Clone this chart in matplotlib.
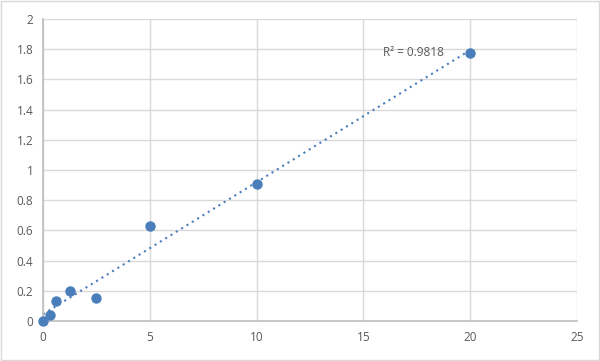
import numpy as np
import matplotlib
matplotlib.use("Agg")
import matplotlib.pyplot as plt

x_vals = [0, 0.3125, 0.625, 1.25, 2.5, 5, 10, 20]
y_vals = [0.0, 0.04, 0.13, 0.20, 0.15, 0.63, 0.905, 1.775]
x_ticks = [0, 5, 10, 15, 20, 25]
y_ticks = [0, 0.2, 0.4, 0.6, 0.8, 1, 1.2, 1.4, 1.6, 1.8, 2]
y_tick_labels = ["0", "0.2", "0.4", "0.6", "0.8", "1", "1.2", "1.4", "1.6", "1.8", "2"]
r2_label = "R² = 0.9818"

plt.rcParams['font.family'] = ['Open Sans', 'DejaVu Sans']

fig = plt.figure(figsize=(6, 3.61), dpi=100)
fig.patch.set_facecolor('white')
ax = fig.add_axes([43/600, 1 - 321/361, (577-43)/600, (321-19)/361])

ax.set_xlim(0, 25)
ax.set_ylim(0, 2)
ax.set_xticks(x_ticks)
ax.set_yticks(y_ticks)
ax.set_yticklabels(y_tick_labels)
ax.grid(True, color='#d9d9d9', linewidth=1)
ax.set_axisbelow(True)
for s in ['top', 'right']:
    ax.spines[s].set_visible(False)
for s in ['left', 'bottom']:
    ax.spines[s].set_color('#bfbfbf')
    ax.spines[s].set_linewidth(1.2)
ax.tick_params(length=0, labelsize=8.5, colors='#595959', pad=7)

# trendline
coef = np.polyfit(x_vals, y_vals, 1)
xx = np.array([0, max(x_vals)])
ax.plot(xx, np.polyval(coef, xx), linestyle=(0, (1, 2)), color='#4a7ebb', linewidth=1.5)

ax.plot(x_vals, y_vals, 'o', color='#4a7ebb', markersize=6.5, zorder=5, clip_on=False)

ax.text(15.9, 1.78, r2_label, fontsize=8.5, color='#595959', va='center', ha='left')

# outer border
fig.add_artist(plt.Rectangle((0.002, 0.003), 0.996, 0.994, transform=fig.transFigure,
                             fill=False, edgecolor='#d9d9d9', linewidth=1))

fig.savefig('out.png', dpi=100)
